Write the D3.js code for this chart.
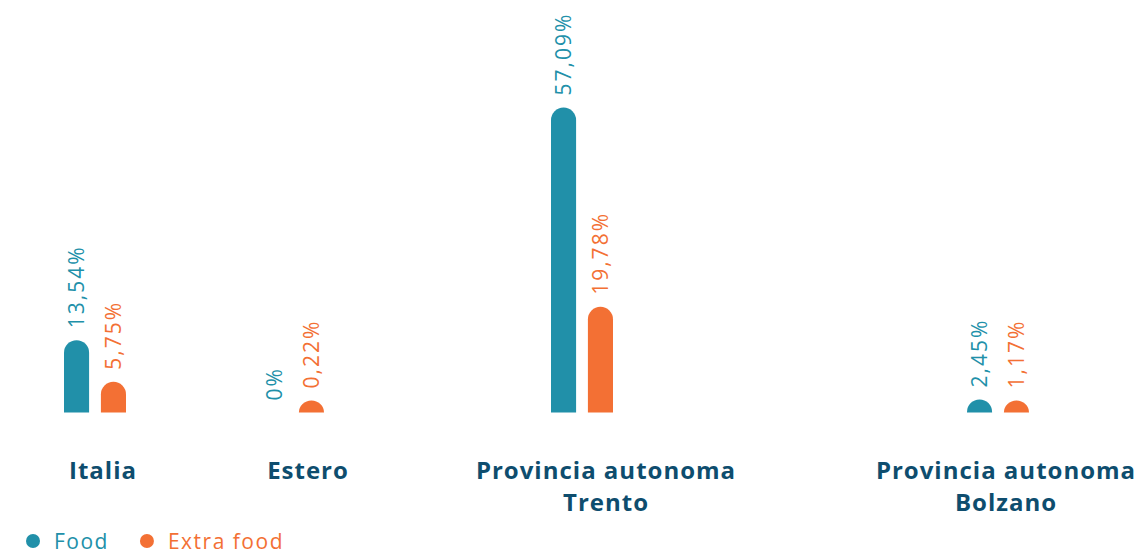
<!DOCTYPE html>
<html>
<head>
<meta charset="utf-8">
<script src="https://cdn.jsdelivr.net/npm/d3@7"></script>
<style>
  html, body { margin: 0; padding: 0; background: #fff; }
  svg { display: block; }
  .val { font-family: "Open Sans", sans-serif; font-size: 21px; font-weight: 400; letter-spacing: 2px; }
  .cat { font-family: "Open Sans", sans-serif; font-size: 24px; font-weight: 700; fill: #0e4d6e; letter-spacing: 1px; }
  .leg { font-family: "Open Sans", sans-serif; font-size: 21px; letter-spacing: 1.5px; }
</style>
</head>
<body>
<svg id="chart" width="1142" height="554"></svg>
<script>
// chart data
const categories = ["Italia", "Estero", "Provincia autonoma\nTrento", "Provincia autonoma\nBolzano"];
const series = ["Food", "Extra food"];
const food      = [13.54, 0, 57.09, 2.45];
const extraFood = [5.75, 0.22, 19.78, 1.17];
const valueLabels = [
  ["13,54%", "0%", "57,09%", "2,45%"],
  ["5,75%", "0,22%", "19,78%", "1,17%"],
];

// layout (not data)
const COLORS = { "Food": "#2190a9", "Extra food": "#f37034" };
const GROUP_X = [95, 293, 582, 998];    // group centres, uneven in the original
const LABEL_X = [103, 308, 606, 1006];  // category label centres
const BASE = 412.5, TOP = 107.5, MIN_H = 12;

const svg = d3.select("#chart");

const x = d3.scaleOrdinal().domain(categories).range(GROUP_X);
const xl = d3.scaleOrdinal().domain(categories).range(LABEL_X);
const xs = d3.scaleBand().domain(series).range([-31, 31]).paddingInner(0.32).paddingOuter(0);
const y = d3.scaleLinear().domain([0, d3.max(food.concat(extraFood))]).range([BASE, TOP]);
const color = d3.scaleOrdinal().domain(series).range(series.map(s => COLORS[s]));

const rows = [];
categories.forEach((c, i) => {
  [food, extraFood].forEach((arr, k) => {
    rows.push({ cat: c, series: series[k], value: arr[i], label: valueLabels[k][i] });
  });
});

function barH(d) {
  return d.value > 0 ? Math.max(BASE - y(d.value), MIN_H) : 0;
}

function barPath(d) {
  const x0 = x(d.cat) + xs(d.series);
  const x1 = x0 + xs.bandwidth();
  const h = barH(d);
  const rx = xs.bandwidth() / 2, ry = Math.min(rx, h);
  const top = BASE - h;
  return `M${x0},${BASE}V${top + ry}A${rx},${ry} 0 0 1 ${x1},${top + ry}V${BASE}Z`;
}

svg.append("g").selectAll("path")
  .data(rows.filter(d => d.value > 0)).enter().append("path")
  .attr("d", barPath)
  .attr("fill", d => color(d.series));

// rotated value labels
svg.append("g").selectAll("text")
  .data(rows).enter().append("text")
  .attr("class", "val")
  .attr("fill", d => color(d.series))
  .attr("transform", d => {
    const cx = x(d.cat) + xs(d.series) + xs.bandwidth() / 2;
    return `translate(${cx + 7.5},${BASE - barH(d) - 12}) rotate(-90)`;
  })
  .text(d => d.label);

// category labels
const cat = svg.append("g").selectAll("text")
  .data(categories).enter().append("text")
  .attr("class", "cat")
  .attr("text-anchor", "middle")
  .attr("x", d => xl(d))
  .attr("y", 479);
cat.each(function(d) {
  d.split("\n").forEach((line, i) => {
    d3.select(this).append("tspan")
      .attr("x", xl(d)).attr("dy", i ? 32 : 0).text(line);
  });
});

// legend
const leg = svg.append("g").attr("transform", "translate(33,541)");
let lx = 0;
series.forEach(s => {
  const g = leg.append("g").attr("transform", `translate(${lx},0)`);
  g.append("circle").attr("r", 7).attr("fill", color(s));
  const t = g.append("text").attr("class", "leg").attr("x", 21).attr("y", 7.5)
    .attr("fill", color(s)).text(s);
  lx += 21 + t.node().getComputedTextLength() + 38;
});
</script>
</body>
</html>
